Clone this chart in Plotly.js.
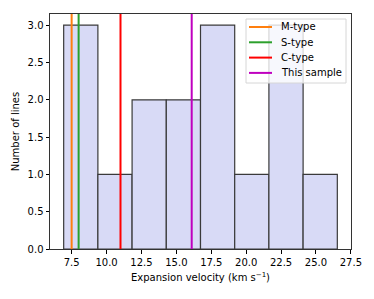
<!DOCTYPE html>
<html>
<head>
<meta charset="utf-8">
<script src="https://cdn.plot.ly/plotly-3.0.1.min.js"></script>
<style>
  body { margin: 0; background: white; }
  #chart { width: 374px; height: 299px; }
</style>
</head>
<body>
<div id="chart"></div>
<script>
"use strict";

// bords des intervalles de l'histogramme et nombre de raies dans chacun
var binEdges = [6.93, 9.38, 11.83, 14.28, 16.73, 19.18, 21.63, 24.08, 26.53];
var counts = [3, 1, 2, 2, 3, 1, 3, 1];

// vitesses de référence (lignes verticales)
var refNames = ['M-type', 'S-type', 'C-type', 'This sample'];
var refValues = [7.5, 8.0, 11.0, 16.1];
var refColors = ['#ff7f0e', '#2ca02c', '#ff0000', '#bf00bf'];

var yTop = 3.15;

// zone de tracé en pixels (pour placer la légende faite à la main)
var W = 374, H = 299;
var M = { l: 50, r: 23, t: 14, b: 50 };
function px(x) { return (x - M.l) / (W - M.l - M.r); }
function py(y) { return (H - M.b - y) / (H - M.t - M.b); }

var centers = [];
var widths = [];
for (var i = 0; i < counts.length; i++) {
  centers.push((binEdges[i] + binEdges[i + 1]) / 2);
  widths.push(binEdges[i + 1] - binEdges[i]);
}

var data = [{
  type: 'bar',
  x: centers,
  y: counts,
  width: widths,
  marker: {
    color: '#d8daf6',
    line: { color: '#3a3a3a', width: 1.2 }
  },
  showlegend: false,
  hoverinfo: 'skip'
}];

refValues.forEach(function (v, k) {
  data.push({
    type: 'scatter',
    mode: 'lines',
    x: [v, v],
    y: [0, yTop],
    name: refNames[k],
    showlegend: false,
    line: { color: refColors[k], width: 2 }
  });
});

// légende : cadre, échantillons de ligne et textes
var shapes = [{
  type: 'rect', xref: 'paper', yref: 'paper', layer: 'above',
  x0: px(246), x1: px(346), y0: py(19), y1: py(83),
  fillcolor: 'rgba(255,255,255,0.8)',
  line: { color: '#d6d6d6', width: 1 }
}];
var annotations = [];
refNames.forEach(function (name, k) {
  var rowY = 27 + k * 15.3;
  shapes.push({
    type: 'line', xref: 'paper', yref: 'paper', layer: 'above',
    x0: px(249), x1: px(272), y0: py(rowY), y1: py(rowY),
    line: { color: refColors[k], width: 2 }
  });
  annotations.push({
    xref: 'paper', yref: 'paper', x: px(279), y: py(rowY),
    xanchor: 'left', yanchor: 'middle', showarrow: false,
    text: name,
    font: { family: 'DejaVu Sans', size: 10, color: '#000' }
  });
});

var axisFont = { family: 'DejaVu Sans', size: 10, color: '#000' };

var layout = {
  width: W,
  height: H,
  margin: M,
  paper_bgcolor: 'white',
  plot_bgcolor: 'white',
  font: axisFont,
  bargap: 0,
  showlegend: false,
  shapes: shapes,
  annotations: annotations,
  xaxis: {
    range: [5.95, 27.51],
    tickvals: [7.5, 10, 12.5, 15, 17.5, 20, 22.5, 25, 27.5],
    tickformat: '.1f',
    ticks: 'outside',
    ticklen: 3.5,
    tickcolor: '#000',
    showgrid: false,
    zeroline: false,
    showline: true,
    mirror: true,
    linecolor: '#333',
    linewidth: 1,
    tickfont: axisFont,
    title: { text: 'Expansion velocity (km s<sup>\u22121</sup>)', font: axisFont, standoff: 7 }
  },
  yaxis: {
    range: [0, yTop],
    dtick: 0.5,
    tickformat: '.1f',
    ticks: 'outside',
    ticklen: 3.5,
    tickcolor: '#000',
    showgrid: false,
    zeroline: false,
    showline: true,
    mirror: true,
    linecolor: '#333',
    linewidth: 1,
    tickfont: axisFont,
    title: { text: 'Number of lines', font: axisFont, standoff: 6 }
  }
};

Plotly.newPlot('chart', data, layout, { displayModeBar: false, staticPlot: true });
</script>
</body>
</html>
